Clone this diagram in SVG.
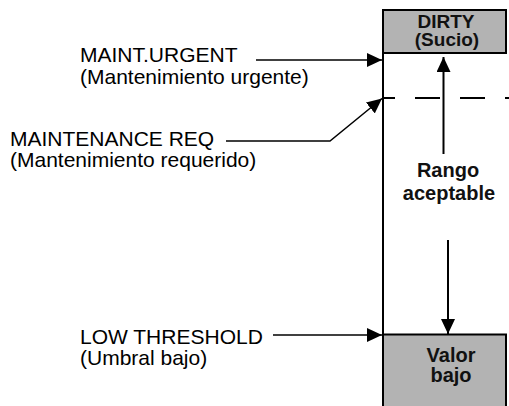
<svg xmlns="http://www.w3.org/2000/svg" width="509" height="406" viewBox="0 0 509 406">
  <style>
    .lbl { font-family: "Liberation Sans", Arial, sans-serif; font-size: 21px; fill: #000; }
    .zone { font-family: "Liberation Sans", Arial, sans-serif; font-size: 20px; font-weight: bold; fill: #111; text-anchor: middle; }
    .tight { font-size: 19px; }
    .box { fill: #b3b3b3; stroke: #000; stroke-width: 2; }
    .edge { fill: none; stroke: #000; stroke-width: 2; }
    .wire { fill: none; stroke: #000; stroke-width: 1.5; }
  </style>
  <defs>
    <marker id="head" markerUnits="userSpaceOnUse" markerWidth="15" markerHeight="14" refX="15" refY="7" orient="auto">
      <path d="M0,0 L15,7 L0,14 z" fill="#000"/>
    </marker>
  </defs>

  <rect width="509" height="406" fill="#fff"/>

  <!-- gauge column -->
  <g id="gauge">
    <line class="edge" x1="383" y1="9" x2="383" y2="406"/>
    <line class="edge" x1="383" y1="98" x2="509" y2="98" stroke-dasharray="25 20" stroke-dashoffset="13"/>
  </g>

  <g id="dirty">
    <rect class="box" x="383" y="10" width="123" height="43"/>
    <text class="zone tight" x="446" y="28">DIRTY</text>
    <text class="zone tight" x="447" y="46">(Sucio)</text>
  </g>

  <g id="low">
    <rect class="box" x="383" y="334.5" width="123" height="80"/>
    <text class="zone" x="451" y="362">Valor</text>
    <text class="zone" x="451" y="382">bajo</text>
  </g>

  <g id="range">
    <text class="zone" x="448" y="177">Rango</text>
    <text class="zone" x="449" y="200">aceptable</text>
  </g>

  <g id="label-urgent">
    <text class="lbl" x="80" y="62">MAINT.URGENT</text>
    <text class="lbl" x="80" y="83.5">(Mantenimiento urgente)</text>
  </g>

  <g id="label-req">
    <text class="lbl" x="10" y="146">MAINTENANCE REQ</text>
    <text class="lbl" x="10" y="167">(Mantenimiento requerido)</text>
  </g>

  <g id="label-low">
    <text class="lbl" x="80" y="343.5">LOW THRESHOLD</text>
    <text class="lbl" x="80" y="365">(Umbral bajo)</text>
  </g>

  <!-- connectors -->
  <g id="connectors">
    <line class="wire" x1="256" y1="60" x2="382" y2="60" marker-end="url(#head)"/>
    <polyline class="wire" points="226,141 330,141 382,98.5" marker-end="url(#head)"/>
    <line class="wire" x1="273" y1="335" x2="382" y2="335" marker-end="url(#head)"/>
    <line class="edge" x1="443.5" y1="154" x2="443.5" y2="57" marker-end="url(#head)"/>
    <line class="edge" x1="448" y1="240" x2="448" y2="334" marker-end="url(#head)"/>
  </g>
</svg>
